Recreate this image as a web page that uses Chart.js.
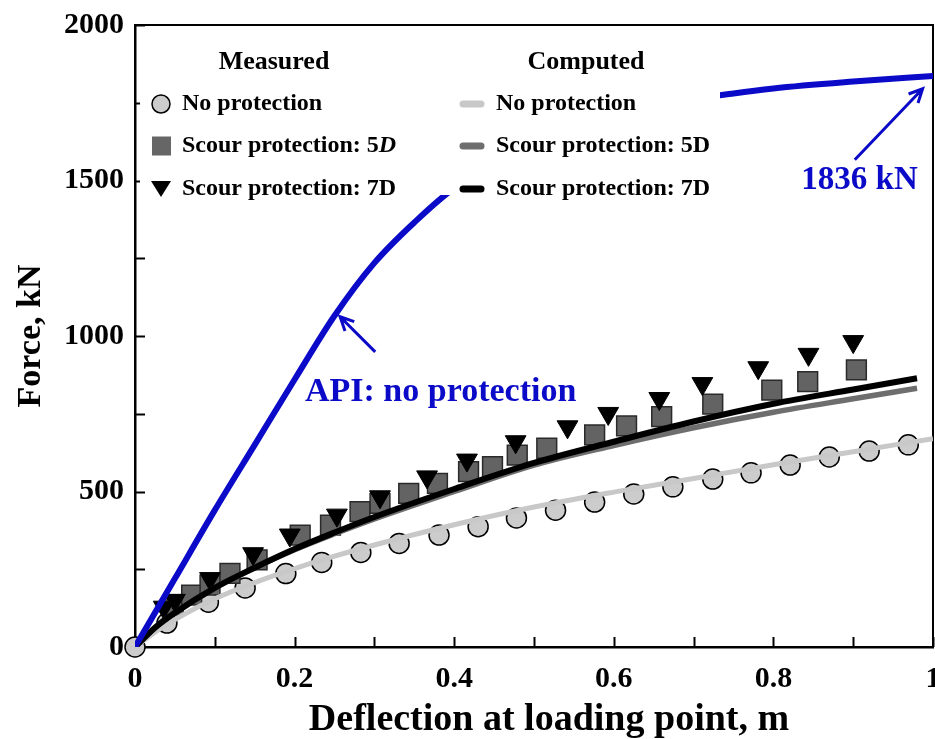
<!DOCTYPE html>
<html>
<head>
<meta charset="utf-8">
<script src="https://cdn.jsdelivr.net/npm/chart.js@4.4.0/dist/chart.umd.min.js"></script>
<style>
  html, body { margin: 0; padding: 0; background: #fff; }
  canvas { display: block; }
</style>
</head>
<body>
<canvas id="myChart" width="935" height="739"></canvas>
<script>
// measured - no protection (circles)
const npX = [0, 0.040, 0.092, 0.138, 0.189, 0.234, 0.283, 0.331, 0.381, 0.430, 0.478, 0.527, 0.576, 0.625, 0.674, 0.724, 0.772, 0.821, 0.870, 0.920, 0.969];
const npF = [0, 77, 144, 190, 236, 272, 304, 333, 360, 387, 415, 440, 466, 492, 515, 540, 560, 585, 611, 630, 650];

// measured - scour protection 5D (squares)
const s5X = [0.048, 0.071, 0.094, 0.119, 0.153, 0.207, 0.245, 0.282, 0.307, 0.343, 0.379, 0.418, 0.448, 0.479, 0.516, 0.576, 0.616, 0.660, 0.724, 0.798, 0.843, 0.904];
const s5F = [135, 167, 199, 237, 280, 360, 392, 435, 462, 494, 526, 564, 580, 617, 639, 682, 711, 741, 781, 826, 853, 891];

// measured - scour protection 7D (triangles)
const s7X = [0.036, 0.050, 0.094, 0.148, 0.194, 0.253, 0.307, 0.366, 0.416, 0.477, 0.542, 0.593, 0.657, 0.711, 0.781, 0.844, 0.900];
const s7F = [128, 150, 220, 300, 360, 424, 483, 547, 601, 660, 708, 751, 799, 847, 898, 941, 982];

// computed curves
const cX = [0, 0.025, 0.05, 0.1, 0.15, 0.2, 0.25, 0.3, 0.4, 0.5, 0.6, 0.7, 0.8, 0.9, 0.98];
const c5F = [0, 62, 110, 190, 255, 313, 364, 412, 500, 585, 648, 705, 755, 798, 832];
const c7F = [0, 62, 110, 190, 255, 315, 368, 418, 508, 592, 660, 725, 782, 828, 864];
const cNoneX = [0, 0.025, 0.05, 0.1, 0.15, 0.2, 0.25, 0.3, 0.4, 0.5, 0.6, 0.7, 0.8, 0.9, 1.0];
const cNoneF = [0, 48, 88, 155, 207, 252, 292, 328, 393, 450, 498, 542, 586, 628, 670];

// API curve, no protection
const apiX = [0, 0.05, 0.1, 0.15, 0.2, 0.25, 0.3, 0.35, 0.4, 0.5, 0.6, 0.7, 0.75, 0.8, 0.9, 1.0];
const apiF = [0, 220, 440, 650, 860, 1065, 1235, 1365, 1475, 1610, 1700, 1760, 1780, 1796, 1818, 1836];

// axis ticks
const xTickLabels = ['0', '0.2', '0.4', '0.6', '0.8', '1'];
const yTickLabels = ['0', '500', '1000', '1500', '2000'];

const FONT = "'Liberation Serif', 'Times New Roman', serif";
const BLUE = '#0a0ac8';

const pts = (xs, ys) => xs.map((x, i) => ({ x: x, y: ys[i] }));

// inward ticks + top / right frame
const frame = {
  id: 'frame',
  beforeDatasetsDraw(chart) {
    const { ctx, chartArea: a, scales: { x, y } } = chart;
    ctx.save();
    ctx.strokeStyle = '#000';
    ctx.lineWidth = 2;
    ctx.beginPath();
    ctx.moveTo(a.left, a.top);
    ctx.lineTo(a.right, a.top);
    ctx.lineTo(a.right, a.bottom);
    ctx.stroke();
    x.ticks.forEach(t => {
      const px = Math.round(x.getPixelForValue(t.value)) + 0.5;
      ctx.beginPath();
      ctx.moveTo(px, a.bottom);
      ctx.lineTo(px, a.bottom - 10);
      ctx.stroke();
    });
    y.ticks.forEach(t => {
      const py = Math.round(y.getPixelForValue(t.value)) + 0.5;
      ctx.beginPath();
      ctx.moveTo(a.left, py);
      ctx.lineTo(a.left + 10, py);
      ctx.stroke();
    });
    ctx.restore();
  }
};

function arrow(ctx, x1, y1, x2, y2) {
  const ang = Math.atan2(y2 - y1, x2 - x1);
  const h = 15, spread = 0.45;
  ctx.beginPath();
  ctx.moveTo(x1, y1);
  ctx.lineTo(x2, y2);
  ctx.moveTo(x2 - h * Math.cos(ang - spread), y2 - h * Math.sin(ang - spread));
  ctx.lineTo(x2, y2);
  ctx.lineTo(x2 - h * Math.cos(ang + spread), y2 - h * Math.sin(ang + spread));
  ctx.stroke();
}

// legend box, x title and annotations
const extras = {
  id: 'extras',
  afterDatasetsDraw(chart) {
    const { ctx, scales: { x, y } } = chart;
    ctx.save();

    // white legend box hides part of the API curve
    ctx.fillStyle = '#fff';
    ctx.fillRect(140, 30, 580, 165);

    ctx.fillStyle = '#000';
    ctx.textBaseline = 'middle';
    ctx.textAlign = 'center';
    ctx.font = 'bold 26px ' + FONT;
    ctx.fillText('Measured', 274, 62);
    ctx.fillText('Computed', 586, 62);

    ctx.textAlign = 'left';
    ctx.font = 'bold 24px ' + FONT;
    const rows = [104, 146, 189];

    // measured symbols
    ctx.lineWidth = 1.5;
    ctx.strokeStyle = '#000';
    ctx.fillStyle = '#cccccc';
    ctx.beginPath();
    ctx.arc(161, rows[0], 9, 0, Math.PI * 2);
    ctx.fill();
    ctx.stroke();
    ctx.fillStyle = '#666666';
    ctx.fillRect(152, rows[1] - 9.5, 19, 19);
    ctx.fillStyle = '#000';
    ctx.beginPath();
    ctx.moveTo(151, rows[2] - 8);
    ctx.lineTo(171, rows[2] - 8);
    ctx.lineTo(161, rows[2] + 8);
    ctx.closePath();
    ctx.fill();

    ctx.fillStyle = '#000';
    ctx.fillText('No protection', 182, rows[0]);
    const s5 = 'Scour protection: 5';
    ctx.fillText(s5, 182, rows[1]);
    const w5 = ctx.measureText(s5).width;
    ctx.font = 'italic bold 24px ' + FONT;
    ctx.fillText('D', 182 + w5, rows[1]);
    ctx.font = 'bold 24px ' + FONT;
    ctx.fillText('Scour protection: 7D', 182, rows[2]);

    // computed line symbols
    ctx.lineCap = 'round';
    ctx.lineWidth = 7;
    [['#c8c8c8', 0], ['#6e6e6e', 1], ['#000000', 2]].forEach(([c, i]) => {
      ctx.strokeStyle = c;
      ctx.beginPath();
      ctx.moveTo(463, rows[i]);
      ctx.lineTo(481, rows[i]);
      ctx.stroke();
    });
    ctx.fillStyle = '#000';
    ctx.fillText('No protection', 496, rows[0]);
    ctx.fillText('Scour protection: 5D', 496, rows[1]);
    ctx.fillText('Scour protection: 7D', 496, rows[2]);

    // x axis title
    ctx.textAlign = 'center';
    ctx.font = 'bold 38px ' + FONT;
    ctx.fillText('Deflection at loading point, m', 549, 720);

    // annotations
    ctx.lineCap = 'butt';
    ctx.strokeStyle = BLUE;
    ctx.fillStyle = BLUE;
    ctx.lineWidth = 3;
    arrow(ctx, x.getPixelForValue(0.301), y.getPixelForValue(949),
               x.getPixelForValue(0.257), y.getPixelForValue(1062));
    arrow(ctx, x.getPixelForValue(0.902), y.getPixelForValue(1567),
               x.getPixelForValue(0.987), y.getPixelForValue(1795));
    ctx.font = 'bold 34px ' + FONT;
    ctx.fillText('API: no protection', x.getPixelForValue(0.383), y.getPixelForValue(820));
    ctx.font = 'bold 33px ' + FONT;
    ctx.fillText('1836 kN', x.getPixelForValue(0.908), y.getPixelForValue(1500));
    ctx.restore();
  }
};

new Chart(document.getElementById('myChart'), {
  type: 'scatter',
  data: {
    datasets: [
      { label: 'Measured no protection', data: pts(npX, npF), pointStyle: 'circle', pointRadius: 10,
        backgroundColor: '#cccccc', borderColor: '#000', borderWidth: 1.5, clip: false, order: 7 },
      { label: 'API: no protection', data: pts(apiX, apiF), showLine: true, borderColor: BLUE, borderWidth: 6,
        pointRadius: 0, cubicInterpolationMode: 'monotone', order: 0 },
      { label: 'Computed 7D', data: pts(cX, c7F), showLine: true, borderColor: '#000000', borderWidth: 6,
        pointRadius: 0, cubicInterpolationMode: 'monotone', order: 1 },
      { label: 'Computed 5D', data: pts(cX, c5F), showLine: true, borderColor: '#6e6e6e', borderWidth: 5.5,
        pointRadius: 0, cubicInterpolationMode: 'monotone', order: 2 },
      { label: 'Computed no protection', data: pts(cNoneX, cNoneF), showLine: true, borderColor: '#c8c8c8', borderWidth: 5,
        pointRadius: 0, cubicInterpolationMode: 'monotone', order: 3 },
      { label: 'Measured 7D', data: pts(s7X, s7F), pointStyle: 'triangle', rotation: 180, pointRadius: 12,
        backgroundColor: '#000', borderColor: '#000', borderWidth: 1, clip: false, order: 4 },
      { label: 'Measured 5D', data: pts(s5X, s5F), pointStyle: 'rect', pointRadius: 14,
        backgroundColor: '#636363', borderColor: '#2a2a2a', borderWidth: 1.5, clip: false, order: 5 }
    ]
  },
  options: {
    responsive: false,
    devicePixelRatio: 1,
    animation: false,
    events: [],
    layout: { autoPadding: false, padding: { top: 25, right: 2, bottom: 0, left: 0 } },
    plugins: { legend: { display: false }, tooltip: { enabled: false } },
    scales: {
      x: {
        type: 'linear', min: 0, max: 1,
        grid: { display: false, drawTicks: false },
        border: { display: true, color: '#000', width: 2.5 },
        ticks: {
          stepSize: 0.1, autoSkip: false, maxRotation: 0, padding: 14, color: '#000',
          font: { family: FONT, size: 30, weight: 'bold' },
          callback: v => {
            const k = Math.round(v * 10);
            return k % 2 === 0 ? xTickLabels[k / 2] : '';
          }
        },
        afterFit: s => { s.height = 92; s.paddingLeft = 0; s.paddingRight = 0; }
      },
      y: {
        type: 'linear', min: 0, max: 2000,
        grid: { display: false, drawTicks: false },
        border: { display: true, color: '#000', width: 2.5 },
        ticks: {
          stepSize: 250, autoSkip: false, padding: 11, color: '#000',
          font: { family: FONT, size: 30, weight: 'bold' },
          callback: v => (v % 500 === 0 ? yTickLabels[v / 500] : '')
        },
        title: {
          display: true, text: 'Force, kN', color: '#000',
          font: { family: FONT, size: 34, weight: 'bold', lineHeight: 1 },
          padding: { top: 14, bottom: 0 }
        },
        afterFit: s => { s.width = 135; s.paddingTop = 0; s.paddingBottom = 0; }
      }
    }
  },
  plugins: [frame, extras]
});
</script>
</body>
</html>
